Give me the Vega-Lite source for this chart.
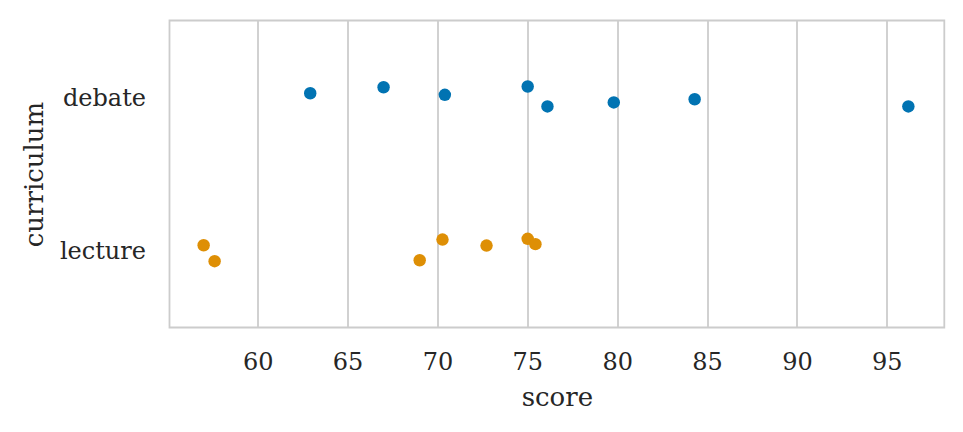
{
  "$schema": "https://vega.github.io/schema/vega-lite/v6.json",
  "autosize": {"type": "none"},
  "padding": {"left": 169.5, "top": 20.5, "right": 18.7, "bottom": 104.5},
  "width": 774.8,
  "height": 307,
  "background": "white",
  "config": {
    "font": "DejaVu Serif",
    "view": {"stroke": "#cccccc", "strokeWidth": 1.8},
    "axis": {"domain": false, "ticks": false, "labelFont": "DejaVu Serif", "titleFont": "DejaVu Serif", "labelColor": "#262626", "titleColor": "#262626", "labelFontSize": 24, "titleFontSize": 26, "titleFontWeight": "normal"}
  },
  "data": {
    "values": [
      {"curriculum": "debate", "score": 62.92, "jitter": -0.026},
      {"curriculum": "debate", "score": 67.0, "jitter": -0.065},
      {"curriculum": "debate", "score": 70.41, "jitter": -0.016},
      {"curriculum": "debate", "score": 75.02, "jitter": -0.070},
      {"curriculum": "debate", "score": 76.12, "jitter": 0.060},
      {"curriculum": "debate", "score": 79.81, "jitter": 0.034},
      {"curriculum": "debate", "score": 84.31, "jitter": 0.013},
      {"curriculum": "debate", "score": 96.2, "jitter": 0.060},
      {"curriculum": "lecture", "score": 56.99, "jitter": -0.036},
      {"curriculum": "lecture", "score": 57.6, "jitter": 0.068},
      {"curriculum": "lecture", "score": 69.01, "jitter": 0.062},
      {"curriculum": "lecture", "score": 70.28, "jitter": -0.073},
      {"curriculum": "lecture", "score": 72.73, "jitter": -0.034},
      {"curriculum": "lecture", "score": 75.02, "jitter": -0.078},
      {"curriculum": "lecture", "score": 75.45, "jitter": -0.043}
    ]
  },
  "mark": {"type": "circle", "size": 155, "opacity": 1},
  "encoding": {
    "x": {
      "field": "score", "type": "quantitative",
      "scale": {"domain": [55.09, 98.2], "nice": false, "zero": false},
      "axis": {"values": [60, 65, 70, 75, 80, 85, 90, 95], "grid": true, "gridColor": "#cccccc", "gridWidth": 1.8, "labelPadding": 23, "titlePadding": 10, "title": "score"}
    },
    "y": {
      "field": "curriculum", "type": "nominal",
      "scale": {"domain": ["debate", "lecture"], "paddingInner": 0, "paddingOuter": 0},
      "axis": {"grid": false, "labelPadding": 24, "labelBaseline": "middle", "labelOffset": 1.5, "titlePadding": 12, "title": "curriculum"}
    },
    "yOffset": {
      "field": "jitter", "type": "quantitative",
      "scale": {"domain": [-0.5, 0.5]}
    },
    "color": {
      "field": "curriculum", "type": "nominal",
      "scale": {"domain": ["debate", "lecture"], "range": ["#0173b2", "#de8f05"]},
      "legend": null
    }
  }
}
